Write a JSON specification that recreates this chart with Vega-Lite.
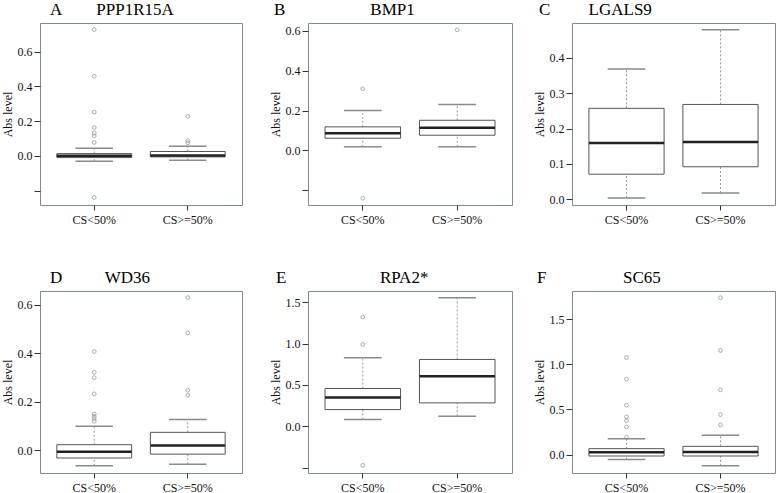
{
"$schema": "https://vega.github.io/schema/vega-lite/v6.json",
"padding": {"left": 0, "top": 0, "right": 0, "bottom": 0},
"background": "white",
"datasets": {
"boxes": [
{"panel": "A", "group": "CS<50%", "lo": -0.031, "q1": -0.010, "med": 0.0, "q3": 0.013, "hi": 0.044},
{"panel": "A", "group": "CS>=50%", "lo": -0.025, "q1": -0.006, "med": 0.002, "q3": 0.025, "hi": 0.056},
{"panel": "B", "group": "CS<50%", "lo": 0.018, "q1": 0.061, "med": 0.086, "q3": 0.118, "hi": 0.200},
{"panel": "B", "group": "CS>=50%", "lo": 0.018, "q1": 0.076, "med": 0.113, "q3": 0.151, "hi": 0.230},
{"panel": "C", "group": "CS<50%", "lo": 0.004, "q1": 0.071, "med": 0.159, "q3": 0.257, "hi": 0.368},
{"panel": "C", "group": "CS>=50%", "lo": 0.018, "q1": 0.092, "med": 0.162, "q3": 0.268, "hi": 0.479},
{"panel": "D", "group": "CS<50%", "lo": -0.065, "q1": -0.033, "med": -0.007, "q3": 0.022, "hi": 0.098},
{"panel": "D", "group": "CS>=50%", "lo": -0.059, "q1": -0.017, "med": 0.019, "q3": 0.073, "hi": 0.126},
{"panel": "E", "group": "CS<50%", "lo": 0.081, "q1": 0.202, "med": 0.348, "q3": 0.457, "hi": 0.829},
{"panel": "E", "group": "CS>=50%", "lo": 0.121, "q1": 0.283, "med": 0.607, "q3": 0.809, "hi": 1.557},
{"panel": "F", "group": "CS<50%", "lo": -0.055, "q1": -0.015, "med": 0.026, "q3": 0.066, "hi": 0.177},
{"panel": "F", "group": "CS>=50%", "lo": -0.122, "q1": -0.015, "med": 0.030, "q3": 0.092, "hi": 0.214}
],
"outliers": [
{"panel": "A", "group": "CS<50%", "value": 0.727},
{"panel": "A", "group": "CS<50%", "value": 0.458},
{"panel": "A", "group": "CS<50%", "value": 0.252},
{"panel": "A", "group": "CS<50%", "value": 0.163},
{"panel": "A", "group": "CS<50%", "value": 0.131},
{"panel": "A", "group": "CS<50%", "value": 0.115},
{"panel": "A", "group": "CS<50%", "value": 0.077},
{"panel": "A", "group": "CS<50%", "value": -0.240},
{"panel": "A", "group": "CS>=50%", "value": 0.227},
{"panel": "A", "group": "CS>=50%", "value": 0.087},
{"panel": "A", "group": "CS>=50%", "value": 0.075},
{"panel": "B", "group": "CS<50%", "value": 0.309},
{"panel": "B", "group": "CS<50%", "value": -0.240},
{"panel": "B", "group": "CS>=50%", "value": 0.605},
{"panel": "D", "group": "CS<50%", "value": 0.407},
{"panel": "D", "group": "CS<50%", "value": 0.321},
{"panel": "D", "group": "CS<50%", "value": 0.299},
{"panel": "D", "group": "CS<50%", "value": 0.232},
{"panel": "D", "group": "CS<50%", "value": 0.149},
{"panel": "D", "group": "CS<50%", "value": 0.139},
{"panel": "D", "group": "CS<50%", "value": 0.130},
{"panel": "D", "group": "CS<50%", "value": 0.119},
{"panel": "D", "group": "CS>=50%", "value": 0.630},
{"panel": "D", "group": "CS>=50%", "value": 0.484},
{"panel": "D", "group": "CS>=50%", "value": 0.247},
{"panel": "D", "group": "CS>=50%", "value": 0.226},
{"panel": "E", "group": "CS<50%", "value": 1.322},
{"panel": "E", "group": "CS<50%", "value": 0.991},
{"panel": "E", "group": "CS<50%", "value": -0.473},
{"panel": "F", "group": "CS<50%", "value": 1.075},
{"panel": "F", "group": "CS<50%", "value": 0.835},
{"panel": "F", "group": "CS<50%", "value": 0.547},
{"panel": "F", "group": "CS<50%", "value": 0.417},
{"panel": "F", "group": "CS<50%", "value": 0.377},
{"panel": "F", "group": "CS<50%", "value": 0.307},
{"panel": "F", "group": "CS<50%", "value": 0.192},
{"panel": "F", "group": "CS>=50%", "value": 1.736},
{"panel": "F", "group": "CS>=50%", "value": 1.153},
{"panel": "F", "group": "CS>=50%", "value": 0.717},
{"panel": "F", "group": "CS>=50%", "value": 0.443},
{"panel": "F", "group": "CS>=50%", "value": 0.329}
]
},
"config": {
"font": "Liberation Serif",
"view": {"stroke": "#7d8b8b", "strokeWidth": 1},
"axis": {"labelFont": "Liberation Serif", "titleFont": "Liberation Serif", "labelFontSize": 12, "titleFontSize": 12, "titleFontWeight": "normal", "labelColor": "#111", "titleColor": "#111", "domain": false, "grid": false, "tickColor": "#333"},
"axisY": {"tickSize": 6, "labelPadding": 2, "titlePadding": 3, "labelExpr": "datum.value < -0.1 ? '' : format(datum.value, '.1f')"},
"axisX": {"tickSize": 5, "labelAngle": 0, "labelPadding": 4},
"title": {"font": "Liberation Serif", "fontSize": 17, "fontWeight": "normal", "anchor": "start", "frame": "group", "color": "#000", "offset": 4}
},
"vconcat": [
{"spacing": 25, "hconcat": [
{"width": 202, "height": 182, "title": {"text": "A\u00a0\u00a0\u00a0\u00a0\u00a0\u00a0\u00a0\u00a0PPP1R15A", "dx": 10},
 "layer": [
 {"data": {"name": "boxes"}, "transform": [{"filter": "datum.panel === 'A'"}], "mark": {"type": "rule", "strokeDash": [2, 2], "color": "#999"},
  "encoding": {"x": {"field": "group", "type": "nominal", "scale": {"domain": ["CS<50%", "CS>=50%"], "paddingInner": 0.2, "paddingOuter": 0.18}, "axis": {"title": null}},
   "y": {"field": "q3", "type": "quantitative", "scale": {"domain": [-0.283, 0.765], "nice": false, "zero": false}, "axis": {"title": "Abs level", "values": [-0.2, 0, 0.2, 0.4, 0.6]}}, "y2": {"field": "hi"}}},
 {"data": {"name": "boxes"}, "transform": [{"filter": "datum.panel === 'A'"}], "mark": {"type": "rule", "strokeDash": [2, 2], "color": "#999"},
  "encoding": {"x": {"field": "group", "type": "nominal"}, "y": {"field": "lo", "type": "quantitative"}, "y2": {"field": "q1"}}},
 {"data": {"name": "boxes"}, "transform": [{"filter": "datum.panel === 'A'"}], "mark": {"type": "bar", "width": {"band": 0.5}, "fill": null, "stroke": "#8a8a8a", "strokeWidth": 1.5},
  "encoding": {"x": {"field": "group", "type": "nominal"}, "y": {"field": "hi", "type": "quantitative"}, "y2": {"field": "hi"}}},
 {"data": {"name": "boxes"}, "transform": [{"filter": "datum.panel === 'A'"}], "mark": {"type": "bar", "width": {"band": 0.5}, "fill": null, "stroke": "#8a8a8a", "strokeWidth": 1.5},
  "encoding": {"x": {"field": "group", "type": "nominal"}, "y": {"field": "lo", "type": "quantitative"}, "y2": {"field": "lo"}}},
 {"data": {"name": "boxes"}, "transform": [{"filter": "datum.panel === 'A'"}], "mark": {"type": "bar", "fill": "white", "stroke": "#555", "strokeWidth": 1},
  "encoding": {"x": {"field": "group", "type": "nominal"}, "y": {"field": "q1", "type": "quantitative"}, "y2": {"field": "q3"}}},
 {"data": {"name": "boxes"}, "transform": [{"filter": "datum.panel === 'A'"}], "mark": {"type": "bar", "fill": null, "stroke": "#222", "strokeWidth": 2.5},
  "encoding": {"x": {"field": "group", "type": "nominal"}, "y": {"field": "med", "type": "quantitative"}, "y2": {"field": "med"}}},
 {"data": {"name": "outliers"}, "transform": [{"filter": "datum.panel === 'A'"}], "mark": {"type": "point", "filled": false, "stroke": "#888", "size": 14, "strokeWidth": 1},
  "encoding": {"x": {"field": "group", "type": "nominal"}, "y": {"field": "value", "type": "quantitative"}}}
 ]},
{"spacing": 19, "hconcat": [
{"width": 204, "height": 182, "title": {"text": "B\u00a0\u00a0\u00a0\u00a0\u00a0\u00a0\u00a0\u00a0\u00a0\u00a0\u00a0\u00a0\u00a0\u00a0\u00a0\u00a0\u00a0\u00a0\u00a0\u00a0BMP1", "dx": -34},
 "layer": [
 {"data": {"name": "boxes"}, "transform": [{"filter": "datum.panel === 'B'"}], "mark": {"type": "rule", "strokeDash": [2, 2], "color": "#999"},
  "encoding": {"x": {"field": "group", "type": "nominal", "scale": {"domain": ["CS<50%", "CS>=50%"], "paddingInner": 0.2, "paddingOuter": 0.18}, "axis": {"title": null}},
   "y": {"field": "q3", "type": "quantitative", "scale": {"domain": [-0.274, 0.639], "nice": false, "zero": false}, "axis": {"title": "Abs level", "values": [-0.2, 0, 0.2, 0.4, 0.6]}}, "y2": {"field": "hi"}}},
 {"data": {"name": "boxes"}, "transform": [{"filter": "datum.panel === 'B'"}], "mark": {"type": "rule", "strokeDash": [2, 2], "color": "#999"},
  "encoding": {"x": {"field": "group", "type": "nominal"}, "y": {"field": "lo", "type": "quantitative"}, "y2": {"field": "q1"}}},
 {"data": {"name": "boxes"}, "transform": [{"filter": "datum.panel === 'B'"}], "mark": {"type": "bar", "width": {"band": 0.5}, "fill": null, "stroke": "#8a8a8a", "strokeWidth": 1.5},
  "encoding": {"x": {"field": "group", "type": "nominal"}, "y": {"field": "hi", "type": "quantitative"}, "y2": {"field": "hi"}}},
 {"data": {"name": "boxes"}, "transform": [{"filter": "datum.panel === 'B'"}], "mark": {"type": "bar", "width": {"band": 0.5}, "fill": null, "stroke": "#8a8a8a", "strokeWidth": 1.5},
  "encoding": {"x": {"field": "group", "type": "nominal"}, "y": {"field": "lo", "type": "quantitative"}, "y2": {"field": "lo"}}},
 {"data": {"name": "boxes"}, "transform": [{"filter": "datum.panel === 'B'"}], "mark": {"type": "bar", "fill": "white", "stroke": "#555", "strokeWidth": 1},
  "encoding": {"x": {"field": "group", "type": "nominal"}, "y": {"field": "q1", "type": "quantitative"}, "y2": {"field": "q3"}}},
 {"data": {"name": "boxes"}, "transform": [{"filter": "datum.panel === 'B'"}], "mark": {"type": "bar", "fill": null, "stroke": "#222", "strokeWidth": 2.5},
  "encoding": {"x": {"field": "group", "type": "nominal"}, "y": {"field": "med", "type": "quantitative"}, "y2": {"field": "med"}}},
 {"data": {"name": "outliers"}, "transform": [{"filter": "datum.panel === 'B'"}], "mark": {"type": "point", "filled": false, "stroke": "#888", "size": 14, "strokeWidth": 1},
  "encoding": {"x": {"field": "group", "type": "nominal"}, "y": {"field": "value", "type": "quantitative"}}}
 ]},
{"width": 203, "height": 182, "title": {"text": "C\u00a0\u00a0\u00a0\u00a0\u00a0\u00a0\u00a0\u00a0\u00a0LGALS9", "dx": -33},
 "layer": [
 {"data": {"name": "boxes"}, "transform": [{"filter": "datum.panel === 'C'"}], "mark": {"type": "rule", "strokeDash": [2, 2], "color": "#999"},
  "encoding": {"x": {"field": "group", "type": "nominal", "scale": {"domain": ["CS<50%", "CS>=50%"], "paddingInner": 0.2, "paddingOuter": 0.18}, "axis": {"title": null}},
   "y": {"field": "q3", "type": "quantitative", "scale": {"domain": [-0.016, 0.498], "nice": false, "zero": false}, "axis": {"title": "Abs level", "values": [0, 0.1, 0.2, 0.3, 0.4]}}, "y2": {"field": "hi"}}},
 {"data": {"name": "boxes"}, "transform": [{"filter": "datum.panel === 'C'"}], "mark": {"type": "rule", "strokeDash": [2, 2], "color": "#999"},
  "encoding": {"x": {"field": "group", "type": "nominal"}, "y": {"field": "lo", "type": "quantitative"}, "y2": {"field": "q1"}}},
 {"data": {"name": "boxes"}, "transform": [{"filter": "datum.panel === 'C'"}], "mark": {"type": "bar", "width": {"band": 0.5}, "fill": null, "stroke": "#8a8a8a", "strokeWidth": 1.5},
  "encoding": {"x": {"field": "group", "type": "nominal"}, "y": {"field": "hi", "type": "quantitative"}, "y2": {"field": "hi"}}},
 {"data": {"name": "boxes"}, "transform": [{"filter": "datum.panel === 'C'"}], "mark": {"type": "bar", "width": {"band": 0.5}, "fill": null, "stroke": "#8a8a8a", "strokeWidth": 1.5},
  "encoding": {"x": {"field": "group", "type": "nominal"}, "y": {"field": "lo", "type": "quantitative"}, "y2": {"field": "lo"}}},
 {"data": {"name": "boxes"}, "transform": [{"filter": "datum.panel === 'C'"}], "mark": {"type": "bar", "fill": "white", "stroke": "#555", "strokeWidth": 1},
  "encoding": {"x": {"field": "group", "type": "nominal"}, "y": {"field": "q1", "type": "quantitative"}, "y2": {"field": "q3"}}},
 {"data": {"name": "boxes"}, "transform": [{"filter": "datum.panel === 'C'"}], "mark": {"type": "bar", "fill": null, "stroke": "#222", "strokeWidth": 2.5},
  "encoding": {"x": {"field": "group", "type": "nominal"}, "y": {"field": "med", "type": "quantitative"}, "y2": {"field": "med"}}}
 ]}
]}
]},
{"spacing": 25, "hconcat": [
{"width": 202, "height": 182, "title": {"text": "D\u00a0\u00a0\u00a0\u00a0\u00a0\u00a0\u00a0\u00a0\u00a0\u00a0WD36", "dx": 10},
 "layer": [
 {"data": {"name": "boxes"}, "transform": [{"filter": "datum.panel === 'D'"}], "mark": {"type": "rule", "strokeDash": [2, 2], "color": "#999"},
  "encoding": {"x": {"field": "group", "type": "nominal", "scale": {"domain": ["CS<50%", "CS>=50%"], "paddingInner": 0.2, "paddingOuter": 0.18}, "axis": {"title": null}},
   "y": {"field": "q3", "type": "quantitative", "scale": {"domain": [-0.095, 0.657], "nice": false, "zero": false}, "axis": {"title": "Abs level", "values": [0, 0.1, 0.2, 0.3, 0.4, 0.5, 0.6]}}, "y2": {"field": "hi"}}},
 {"data": {"name": "boxes"}, "transform": [{"filter": "datum.panel === 'D'"}], "mark": {"type": "rule", "strokeDash": [2, 2], "color": "#999"},
  "encoding": {"x": {"field": "group", "type": "nominal"}, "y": {"field": "lo", "type": "quantitative"}, "y2": {"field": "q1"}}},
 {"data": {"name": "boxes"}, "transform": [{"filter": "datum.panel === 'D'"}], "mark": {"type": "bar", "width": {"band": 0.5}, "fill": null, "stroke": "#8a8a8a", "strokeWidth": 1.5},
  "encoding": {"x": {"field": "group", "type": "nominal"}, "y": {"field": "hi", "type": "quantitative"}, "y2": {"field": "hi"}}},
 {"data": {"name": "boxes"}, "transform": [{"filter": "datum.panel === 'D'"}], "mark": {"type": "bar", "width": {"band": 0.5}, "fill": null, "stroke": "#8a8a8a", "strokeWidth": 1.5},
  "encoding": {"x": {"field": "group", "type": "nominal"}, "y": {"field": "lo", "type": "quantitative"}, "y2": {"field": "lo"}}},
 {"data": {"name": "boxes"}, "transform": [{"filter": "datum.panel === 'D'"}], "mark": {"type": "bar", "fill": "white", "stroke": "#555", "strokeWidth": 1},
  "encoding": {"x": {"field": "group", "type": "nominal"}, "y": {"field": "q1", "type": "quantitative"}, "y2": {"field": "q3"}}},
 {"data": {"name": "boxes"}, "transform": [{"filter": "datum.panel === 'D'"}], "mark": {"type": "bar", "fill": null, "stroke": "#222", "strokeWidth": 2.5},
  "encoding": {"x": {"field": "group", "type": "nominal"}, "y": {"field": "med", "type": "quantitative"}, "y2": {"field": "med"}}},
 {"data": {"name": "outliers"}, "transform": [{"filter": "datum.panel === 'D'"}], "mark": {"type": "point", "filled": false, "stroke": "#888", "size": 14, "strokeWidth": 1},
  "encoding": {"x": {"field": "group", "type": "nominal"}, "y": {"field": "value", "type": "quantitative"}}}
 ]},
{"spacing": 19, "hconcat": [
{"width": 204, "height": 182, "title": {"text": "E\u00a0\u00a0\u00a0\u00a0\u00a0\u00a0\u00a0\u00a0\u00a0\u00a0\u00a0\u00a0\u00a0\u00a0\u00a0\u00a0\u00a0\u00a0\u00a0\u00a0\u00a0\u00a0RPA2*", "dx": -32},
 "layer": [
 {"data": {"name": "boxes"}, "transform": [{"filter": "datum.panel === 'E'"}], "mark": {"type": "rule", "strokeDash": [2, 2], "color": "#999"},
  "encoding": {"x": {"field": "group", "type": "nominal", "scale": {"domain": ["CS<50%", "CS>=50%"], "paddingInner": 0.2, "paddingOuter": 0.18}, "axis": {"title": null}},
   "y": {"field": "q3", "type": "quantitative", "scale": {"domain": [-0.566, 1.638], "nice": false, "zero": false}, "axis": {"title": "Abs level", "values": [-0.5, 0, 0.5, 1, 1.5]}}, "y2": {"field": "hi"}}},
 {"data": {"name": "boxes"}, "transform": [{"filter": "datum.panel === 'E'"}], "mark": {"type": "rule", "strokeDash": [2, 2], "color": "#999"},
  "encoding": {"x": {"field": "group", "type": "nominal"}, "y": {"field": "lo", "type": "quantitative"}, "y2": {"field": "q1"}}},
 {"data": {"name": "boxes"}, "transform": [{"filter": "datum.panel === 'E'"}], "mark": {"type": "bar", "width": {"band": 0.5}, "fill": null, "stroke": "#8a8a8a", "strokeWidth": 1.5},
  "encoding": {"x": {"field": "group", "type": "nominal"}, "y": {"field": "hi", "type": "quantitative"}, "y2": {"field": "hi"}}},
 {"data": {"name": "boxes"}, "transform": [{"filter": "datum.panel === 'E'"}], "mark": {"type": "bar", "width": {"band": 0.5}, "fill": null, "stroke": "#8a8a8a", "strokeWidth": 1.5},
  "encoding": {"x": {"field": "group", "type": "nominal"}, "y": {"field": "lo", "type": "quantitative"}, "y2": {"field": "lo"}}},
 {"data": {"name": "boxes"}, "transform": [{"filter": "datum.panel === 'E'"}], "mark": {"type": "bar", "fill": "white", "stroke": "#555", "strokeWidth": 1},
  "encoding": {"x": {"field": "group", "type": "nominal"}, "y": {"field": "q1", "type": "quantitative"}, "y2": {"field": "q3"}}},
 {"data": {"name": "boxes"}, "transform": [{"filter": "datum.panel === 'E'"}], "mark": {"type": "bar", "fill": null, "stroke": "#222", "strokeWidth": 2.5},
  "encoding": {"x": {"field": "group", "type": "nominal"}, "y": {"field": "med", "type": "quantitative"}, "y2": {"field": "med"}}},
 {"data": {"name": "outliers"}, "transform": [{"filter": "datum.panel === 'E'"}], "mark": {"type": "point", "filled": false, "stroke": "#888", "size": 14, "strokeWidth": 1},
  "encoding": {"x": {"field": "group", "type": "nominal"}, "y": {"field": "value", "type": "quantitative"}}}
 ]},
{"width": 203, "height": 182, "title": {"text": "F\u00a0\u00a0\u00a0\u00a0\u00a0\u00a0\u00a0\u00a0\u00a0\u00a0\u00a0\u00a0\u00a0\u00a0\u00a0\u00a0\u00a0\u00a0SC65", "dx": -35},
 "layer": [
 {"data": {"name": "boxes"}, "transform": [{"filter": "datum.panel === 'F'"}], "mark": {"type": "rule", "strokeDash": [2, 2], "color": "#999"},
  "encoding": {"x": {"field": "group", "type": "nominal", "scale": {"domain": ["CS<50%", "CS>=50%"], "paddingInner": 0.2, "paddingOuter": 0.18}, "axis": {"title": null}},
   "y": {"field": "q3", "type": "quantitative", "scale": {"domain": [-0.203, 1.81], "nice": false, "zero": false}, "axis": {"title": "Abs level", "values": [0, 0.5, 1, 1.5]}}, "y2": {"field": "hi"}}},
 {"data": {"name": "boxes"}, "transform": [{"filter": "datum.panel === 'F'"}], "mark": {"type": "rule", "strokeDash": [2, 2], "color": "#999"},
  "encoding": {"x": {"field": "group", "type": "nominal"}, "y": {"field": "lo", "type": "quantitative"}, "y2": {"field": "q1"}}},
 {"data": {"name": "boxes"}, "transform": [{"filter": "datum.panel === 'F'"}], "mark": {"type": "bar", "width": {"band": 0.5}, "fill": null, "stroke": "#8a8a8a", "strokeWidth": 1.5},
  "encoding": {"x": {"field": "group", "type": "nominal"}, "y": {"field": "hi", "type": "quantitative"}, "y2": {"field": "hi"}}},
 {"data": {"name": "boxes"}, "transform": [{"filter": "datum.panel === 'F'"}], "mark": {"type": "bar", "width": {"band": 0.5}, "fill": null, "stroke": "#8a8a8a", "strokeWidth": 1.5},
  "encoding": {"x": {"field": "group", "type": "nominal"}, "y": {"field": "lo", "type": "quantitative"}, "y2": {"field": "lo"}}},
 {"data": {"name": "boxes"}, "transform": [{"filter": "datum.panel === 'F'"}], "mark": {"type": "bar", "fill": "white", "stroke": "#555", "strokeWidth": 1},
  "encoding": {"x": {"field": "group", "type": "nominal"}, "y": {"field": "q1", "type": "quantitative"}, "y2": {"field": "q3"}}},
 {"data": {"name": "boxes"}, "transform": [{"filter": "datum.panel === 'F'"}], "mark": {"type": "bar", "fill": null, "stroke": "#222", "strokeWidth": 2.5},
  "encoding": {"x": {"field": "group", "type": "nominal"}, "y": {"field": "med", "type": "quantitative"}, "y2": {"field": "med"}}},
 {"data": {"name": "outliers"}, "transform": [{"filter": "datum.panel === 'F'"}], "mark": {"type": "point", "filled": false, "stroke": "#888", "size": 14, "strokeWidth": 1},
  "encoding": {"x": {"field": "group", "type": "nominal"}, "y": {"field": "value", "type": "quantitative"}}}
 ]}
]}
]}
],
"spacing": 42
}
